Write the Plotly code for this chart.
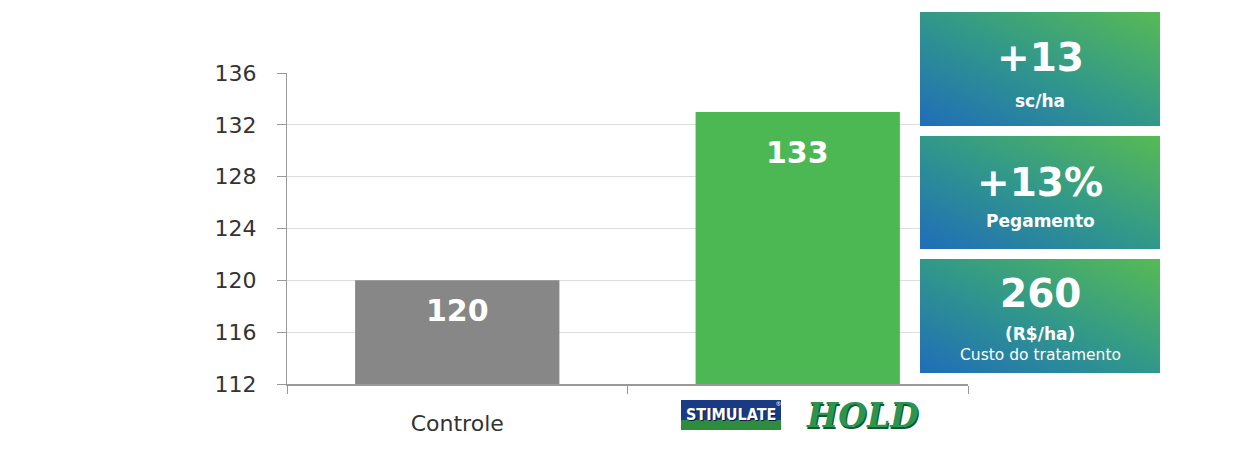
import plotly.graph_objects as go

# ---- data ----
categories = ["Controle", "Stimulate + Hold"]
values = [120, 133]
bar_colors = ["#878787", "#4cb853"]
y_ticks = [112, 116, 120, 124, 128, 132, 136]
tick_text = ["Controle", ""]

box_big = ["+13", "+13%", "260"]
box_small = ["sc/ha", "Pegamento", "(R$/ha)"]
box_extra = ["", "", "Custo do tratamento"]

gradient_z = [[0.0, 0.5], [0.5, 1.0]]

W, H = 1240, 455
def fx(px):
    return px / W
def fy(py):
    return 1 - py / H

fig = go.Figure()
fig.add_trace(go.Bar(
    x=categories, y=values, marker=dict(color=bar_colors, line=dict(width=0)),
    width=0.6, hoverinfo="skip", showlegend=False,
))

# gradient boxes (heatmaps on their own axes)
box_y = [(12, 126), (136, 249), (259, 373)]
box_x = (920, 1160)
colorscale = [[0, "#1f6db9"], [0.5, "#31988a"], [1, "#57ba55"]]
for i, (t, b) in enumerate(box_y):
    n = i + 2
    fig.add_trace(go.Heatmap(
        z=gradient_z, x=[0, 1], y=[0, 1], zsmooth="best", colorscale=colorscale,
        zmin=0, zmax=1, showscale=False, hoverinfo="skip",
        xaxis=f"x{n}", yaxis=f"y{n}",
    ))
    fig.update_layout(**{
        f"xaxis{n}": dict(domain=[fx(box_x[0]), fx(box_x[1])], range=[0, 1], visible=False,
                          anchor=f"y{n}", fixedrange=True),
        f"yaxis{n}": dict(domain=[fy(b), fy(t)], range=[0, 1], visible=False,
                          anchor=f"x{n}", fixedrange=True),
    })

font_fam = "DejaVu Sans, sans-serif"
annotations = []
# bar value labels
label_shift = [-30, -41]
for c, v, s in zip(categories, values, label_shift):
    annotations.append(dict(x=c, y=v, xref="x", yref="y", text=f"<b>{v}</b>", showarrow=False,
                            yshift=s, yanchor="middle", xanchor="center",
                            font=dict(family=font_fam, size=30, color="white")))

cx = fx((box_x[0] + box_x[1]) / 2)
big_y = [58, 182, 293]
small_y = [101, 221, 334]
small_size = [17, 17, 17]
for i in range(3):
    annotations.append(dict(x=cx, y=fy(big_y[i]), xref="paper", yref="paper", text=f"<b>{box_big[i]}</b>",
                            showarrow=False, yanchor="middle", xanchor="center",
                            font=dict(family=font_fam, size=39, color="white")))
    annotations.append(dict(x=cx, y=fy(small_y[i]), xref="paper", yref="paper", text=f"<b>{box_small[i]}</b>",
                            showarrow=False, yanchor="middle", xanchor="center",
                            font=dict(family=font_fam, size=small_size[i], color="white")))
    if box_extra[i]:
        annotations.append(dict(x=cx, y=fy(355), xref="paper", yref="paper", text=box_extra[i],
                                showarrow=False, yanchor="middle", xanchor="center",
                                font=dict(family=font_fam, size=15.5, color="white")))

# logo for second category
annotations.append(dict(x=fx(731), y=fy(414), xref="paper", yref="paper", text="<b>STIMULATE</b>",
                        showarrow=False, yanchor="middle", xanchor="center",
                        font=dict(family="DejaVu Sans Condensed, Liberation Sans Narrow, sans-serif",
                                  size=16, color="white", shadow="1px 1px 0px #0a1d4a")))
annotations.append(dict(x=fx(778), y=fy(404), xref="paper", yref="paper", text="®",
                        showarrow=False, xanchor="center", yanchor="middle",
                        font=dict(size=6, color="white")))
annotations.append(dict(x=fx(862), y=fy(415), xref="paper", yref="paper", text="<b><i>HOLD</i></b>",
                        showarrow=False, yanchor="middle", xanchor="center",
                        font=dict(family="DejaVu Serif, serif", size=33, color="#2a9450",
                                  shadow="1px 2px 0px #0d5a2a")))

shapes = [
    dict(type="rect", xref="paper", yref="paper", x0=fx(681), x1=fx(781), y0=fy(430), y1=fy(400),
         fillcolor="#1b3a84", line=dict(width=0), layer="below"),
    dict(type="rect", xref="paper", yref="paper", x0=fx(681), x1=fx(781), y0=fy(430), y1=fy(420),
         fillcolor="#2f8c3f", line=dict(width=0), layer="below"),
]

fig.update_layout(
    width=W, height=H,
    margin=dict(l=0, r=0, t=0, b=0),
    paper_bgcolor="white", plot_bgcolor="white",
    bargap=0.4,
    xaxis=dict(domain=[fx(287), fx(968)], tickmode="array", tickvals=categories, ticktext=tick_text,
               tickson="boundaries", ticks="outside", ticklen=8, tickcolor="#999999", tickwidth=1,
               showline=True, linecolor="#999999", linewidth=1.5, showgrid=False,
               ticklabelstandoff=19,
               tickfont=dict(family=font_fam, size=22, color="#333333"), automargin=False,
               fixedrange=True),
    yaxis=dict(domain=[fy(384), fy(73)], range=[112, 136], tickvals=y_ticks,
               ticks="outside", ticklen=9, tickcolor="#999999", showline=True, linecolor="#999999",
               linewidth=1, gridcolor="#dddddd", gridwidth=1, zeroline=False,
               ticklabelstandoff=16,
               tickfont=dict(family=font_fam, size=22, color="#333333"), automargin=False,
               fixedrange=True),
    annotations=annotations, shapes=shapes,
)

fig.write_html("out.html", post_script="document.body.style.margin='0';",
               config={"displayModeBar": False})
